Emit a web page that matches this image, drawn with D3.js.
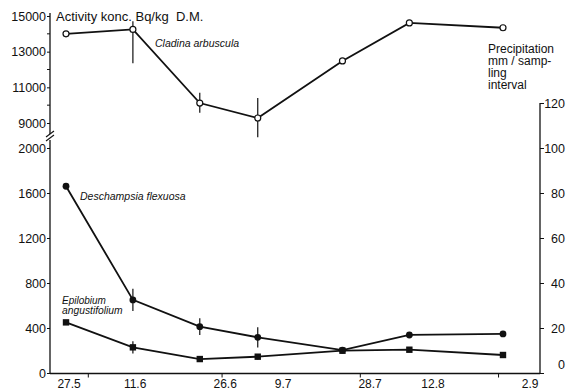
<!DOCTYPE html>
<html>
<head>
<meta charset="utf-8">
<script src="https://cdn.jsdelivr.net/npm/d3@7"></script>
<style>
  html, body { margin: 0; padding: 0; background: #fff; }
  svg { display: block; font-family: "Liberation Sans", Arial, sans-serif; }
  text { fill: #111; }
</style>
</head>
<body>
<svg id="chart" width="572" height="390"></svg>
<script>
// ---- data (day of year of each sampling) ----
const sampleDays   = [147, 162, 177, 190, 209, 224, 245];
const dateLabels   = ["27.5", "11.6", "26.6", "9.7", "28.7", "12.8", "2.9"];
const labelDays    = [147.7, 162.5, 182.7, 195.7, 215.2, 229.3, 251.1]; // where the date labels sit
const monthStarts  = [152, 182, 213, 244];

const cladina      = [14000, 14250, 10120, 9280, 12480, 14610, 14340];
const cladinaLo    = [null, 12350, 9570, 8200, null, null, null];
const cladinaHi    = [null, 14700, 10690, 10400, null, null, null];

const deschampsia  = [1660, 650, 412, 317, 204, 338, 347];
const deschErr     = [0, 98, 75, 90, 0, 0, 0];

const epilobium    = [450, 228, 124, 145, 198, 207, 160];
const epiErr       = [0, 55, 0, 25, 0, 0, 0];

const upperTicks   = [9000, 11000, 13000, 15000];
const upperMinor   = [10000, 12000, 14000];
const lowerTicks   = [0, 400, 800, 1200, 1600, 2000];
const precipTicks  = [0, 20, 40, 60, 80, 100, 120];

// ---- layout ----
const svg = d3.select("#chart");
const x = d3.scaleLinear().domain([143.41, 253.3]).range([50, 540]);
const yUp = d3.scaleLinear().domain([9000, 15000]).range([123, 16]);
const yLow = d3.scaleLinear().domain([0, 2000]).range([373, 148]);
const yPr = d3.scaleLinear().domain([0, 120]).range([373, 103]);

const ink = "#111";

// upper left axis
const gUp = svg.append("g").attr("transform", "translate(50,0)")
  .call(d3.axisLeft(yUp).tickValues(upperTicks).tickSize(3).tickPadding(1).tickFormat(d3.format("d")));
gUp.select(".domain").remove();
gUp.append("line").attr("x1", 0).attr("x2", 0).attr("y1", 13).attr("y2", 134).attr("stroke", ink).attr("stroke-width", 1.3);
gUp.selectAll(".minor").data(upperMinor).join("line")
  .attr("x1", -3).attr("x2", 0).attr("y1", d => yUp(d)).attr("y2", d => yUp(d))
  .attr("stroke", ink).attr("stroke-width", 1);

// lower left axis
const gLow = svg.append("g").attr("transform", "translate(50,0)")
  .call(d3.axisLeft(yLow).tickValues(lowerTicks).tickSize(3).tickPadding(1).tickFormat(d3.format("d")));
gLow.select(".domain").remove();
gLow.append("line").attr("x1", 0).attr("x2", 0).attr("y1", 140).attr("y2", 373.5).attr("stroke", ink).attr("stroke-width", 1.3);

// axis break marks
svg.append("line").attr("x1", 46).attr("y1", 137).attr("x2", 54).attr("y2", 131).attr("stroke", ink).attr("stroke-width", 1.1);
svg.append("line").attr("x1", 46).attr("y1", 141).attr("x2", 54).attr("y2", 135).attr("stroke", ink).attr("stroke-width", 1.1);

[gUp, gLow].forEach(g => {
  g.selectAll(".tick line").attr("stroke", ink);
  g.selectAll(".tick text").attr("font-size", 12.5).attr("fill", ink)
    .attr("font-family", "'Liberation Sans', Arial, sans-serif");
});

// right axis (precipitation)
const gPr = svg.append("g").attr("transform", "translate(540,0)")
  .call(d3.axisRight(yPr).tickValues(precipTicks).tickSize(4).tickPadding(1).tickFormat(d3.format("d")));
gPr.select(".domain").remove();
gPr.append("line").attr("x1", 0).attr("x2", 0).attr("y1", 103).attr("y2", 373.5).attr("stroke", ink).attr("stroke-width", 1.3);
gPr.selectAll(".tick line").attr("stroke", ink);
gPr.selectAll(".tick text").attr("font-size", 12.5).attr("fill", ink)
  .attr("font-family", "'Liberation Sans', Arial, sans-serif")
  .attr("text-anchor", "end").attr("x", 25)
  .attr("dy", d => d === 0 ? "-0.35em" : "0.32em");

// bottom axis
svg.append("line").attr("x1", 50).attr("x2", 540).attr("y1", 373.5).attr("y2", 373.5).attr("stroke", ink).attr("stroke-width", 1.3);
svg.selectAll(".mtick").data(monthStarts).join("line")
  .attr("x1", d => x(d)).attr("x2", d => x(d)).attr("y1", 373.5).attr("y2", 377.5)
  .attr("stroke", ink).attr("stroke-width", 1);
svg.selectAll(".dlab").data(dateLabels).join("text")
  .attr("x", (d, i) => x(labelDays[i])).attr("y", 387.5)
  .attr("text-anchor", "middle").attr("font-size", 12)
  .text(d => d);

// error bars
function errBars(vals, lo, hi, y) {
  svg.append("g").selectAll("line").data(vals.map((v, i) => ({v, i})).filter(d => lo[d.i] !== null && hi[d.i] !== null && lo[d.i] !== hi[d.i]))
    .join("line")
    .attr("x1", d => x(sampleDays[d.i])).attr("x2", d => x(sampleDays[d.i]))
    .attr("y1", d => y(lo[d.i])).attr("y2", d => y(hi[d.i]))
    .attr("stroke", ink).attr("stroke-width", 1.2);
}
errBars(cladina, cladinaLo, cladinaHi, yUp);
errBars(deschampsia, deschampsia.map((v, i) => v - deschErr[i]), deschampsia.map((v, i) => v + deschErr[i]), yLow);
errBars(epilobium, epilobium.map((v, i) => v - epiErr[i]), epilobium.map((v, i) => v + epiErr[i]), yLow);

// lines
function seriesLine(vals, y) {
  svg.append("path").datum(vals)
    .attr("fill", "none").attr("stroke", ink).attr("stroke-width", 1.8)
    .attr("d", d3.line().x((d, i) => x(sampleDays[i])).y(d => y(d)));
}
seriesLine(cladina, yUp);
seriesLine(deschampsia, yLow);
seriesLine(epilobium, yLow);

// markers
svg.append("g").selectAll("circle").data(cladina).join("circle")
  .attr("cx", (d, i) => x(sampleDays[i])).attr("cy", d => yUp(d)).attr("r", 3)
  .attr("fill", "#fff").attr("stroke", ink).attr("stroke-width", 1.2);
svg.append("g").selectAll("circle").data(deschampsia).join("circle")
  .attr("cx", (d, i) => x(sampleDays[i])).attr("cy", d => yLow(d)).attr("r", 3.4)
  .attr("fill", ink);
svg.append("g").selectAll("rect").data(epilobium).join("rect")
  .attr("x", (d, i) => x(sampleDays[i]) - 3.2).attr("y", d => yLow(d) - 3.2)
  .attr("width", 6.4).attr("height", 6.4).attr("fill", ink);

// texts
svg.append("text").attr("x", 56).attr("y", 20.5).attr("font-size", 13)
  .style("white-space", "pre").text("Activity konc. Bq/kg  D.M.");
svg.append("text").attr("x", 155).attr("y", 47).attr("font-size", 10.5).attr("font-style", "italic")
  .text("Cladina arbuscula");
svg.append("text").attr("x", 80).attr("y", 200).attr("font-size", 10.5).attr("font-style", "italic")
  .text("Deschampsia flexuosa");
svg.append("text").attr("x", 62).attr("y", 303.5).attr("font-size", 10).attr("font-style", "italic")
  .text("Epilobium");
svg.append("text").attr("x", 62).attr("y", 314).attr("font-size", 10.3).attr("font-style", "italic")
  .text("angustifolium");
const prLines = ["Precipitation", "mm / samp-", "ling", "interval"];
svg.append("g").selectAll("text").data(prLines).join("text")
  .attr("x", 488).attr("y", (d, i) => 53 + i * 12).attr("font-size", 12)
  .text(d => d);
</script>
</body>
</html>
